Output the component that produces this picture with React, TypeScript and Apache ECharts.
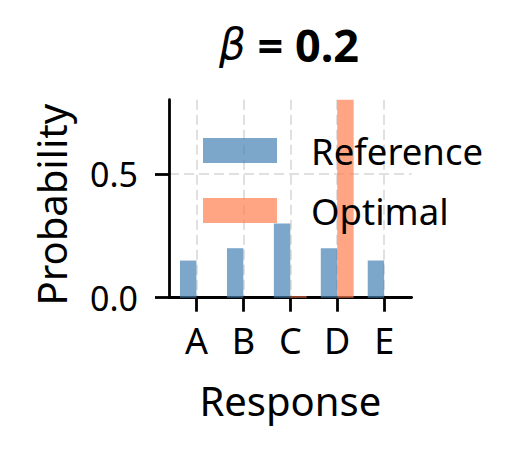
import { useEffect, useRef } from "react";
import * as echarts from "echarts";

const categories = ["A", "B", "C", "D", "E"];
const referenceProbs = [0.15, 0.2, 0.3, 0.2, 0.15];
const optimalProbs = [0.0, 0.0, 0.006, 0.8, 0.0];
const yTicks = [0, 0.5];
const xTicks = [0, 1, 2, 3, 4];

const FONT = "Noto Sans";
const GRID_LINE = { color: "#e0e0e0", width: 2, type: [10, 5] };
const AXIS_LINE = { color: "#000", width: 2.8 };

export default function App() {
    const ref = useRef<HTMLDivElement>(null);

    useEffect(() => {
        if (!ref.current) return;
        const chart = echarts.init(ref.current, undefined, { renderer: "svg" });

        chart.setOption({
            animation: false,
            backgroundColor: "#fff",
            textStyle: { fontFamily: FONT },
            title: {
                text: "{g|β} = 0.2",
                left: 289,
                top: 22,
                textAlign: "center",
                padding: 0,
                textStyle: {
                    fontFamily: FONT,
                    fontSize: 45,
                    fontWeight: "bold",
                    color: "#000",
                    rich: {
                        g: { fontFamily: "DejaVu Sans", fontStyle: "italic", fontWeight: "normal", fontSize: 42, color: "#000" },
                    },
                },
            },
            legend: {
                orient: "vertical",
                left: 203,
                top: 132,
                icon: "rect",
                itemWidth: 74,
                itemHeight: 25,
                itemGap: 23,
                padding: 0,
                textStyle: { fontFamily: FONT, fontSize: 36.5, color: "#000", padding: [0, 0, 0, 29] },
                data: ["Reference", "Optimal"],
            },
            grid: { left: 169, top: 99.7, width: 242.6, height: 198, containLabel: false },
            xAxis: {
                type: "value",
                min: -0.585,
                max: 4.585,
                name: "Response",
                nameLocation: "middle",
                nameGap: 83,
                nameTextStyle: { fontFamily: FONT, fontSize: 40, color: "#000" },
                axisLine: { show: true, onZero: false, lineStyle: AXIS_LINE },
                axisTick: { show: true, length: 14, lineStyle: AXIS_LINE, customValues: xTicks },
                axisLabel: {
                    customValues: xTicks,
                    margin: 25,
                    fontSize: 36,
                    color: "#000",
                    fontFamily: FONT,
                    formatter: (v: number) => categories[Math.round(v)] ?? "",
                },
                splitLine: { show: true, lineStyle: GRID_LINE },
            },
            yAxis: {
                type: "value",
                min: 0,
                max: 0.8,
                name: "Probability",
                nameLocation: "middle",
                nameRotate: 90,
                nameGap: 98,
                nameTextStyle: { fontFamily: FONT, fontSize: 40, color: "#000", padding: [0, 12, 0, 0] },
                axisLine: { show: true, onZero: false, lineStyle: AXIS_LINE },
                axisTick: { show: true, length: 14, lineStyle: AXIS_LINE, customValues: yTicks },
                axisLabel: {
                    customValues: yTicks,
                    margin: 31,
                    fontSize: 34,
                    color: "#000",
                    fontFamily: FONT,
                    formatter: (v: number) => v.toFixed(1),
                },
                splitLine: { show: true, lineStyle: GRID_LINE },
            },
            series: [
                {
                    name: "Reference",
                    type: "bar",
                    barWidth: "35%",
                    barGap: "0%",
                    data: xTicks.map((x, i) => [x, referenceProbs[i]]),
                    itemStyle: { color: "rgba(70,130,180,0.7)" },
                },
                {
                    name: "Optimal",
                    type: "bar",
                    barWidth: "35%",
                    barGap: "0%",
                    data: xTicks.map((x, i) => [x, optimalProbs[i]]),
                    itemStyle: { color: "rgba(255,127,80,0.7)" },
                },
            ],
        });

        return () => chart.dispose();
    }, []);

    return (
        <div
            ref={ref}
            style={{ position: "fixed", left: 0, top: 0, width: 529, height: 454, background: "#fff" }}
        />
    );
}
